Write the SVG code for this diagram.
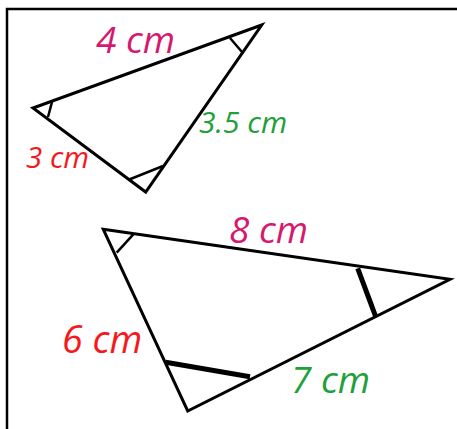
<svg xmlns="http://www.w3.org/2000/svg" width="457" height="429" viewBox="0 0 457 429">
<style>
.tri{fill:none;stroke:#000;stroke-width:3;stroke-linejoin:miter}
.mk{fill:none;stroke:#000;stroke-width:2.5}
.mkb{fill:none;stroke:#000;stroke-width:5}
.lbl{font-family:"Open Sans","Noto Sans",sans-serif;font-style:italic}
.mag{fill:#d6186e}.red{fill:#f5191e}.grn{fill:#21a03a}
</style>
<rect x="0" y="0" width="457" height="429" fill="#fff"/>
<g id="frame"><path d="M7,429 V9 H457" fill="none" stroke="#000" stroke-width="2.5"/></g>
<g id="small-triangle">
<polygon class="tri" points="261.7,25 33,108 145.7,192"/>
<line class="mk" x1="230" y1="38" x2="242" y2="52"/>
<line class="mk" x1="52" y1="102" x2="48" y2="117"/>
<line class="mk" x1="128" y1="180" x2="163" y2="166"/>
</g>
<g id="large-triangle">
<polygon class="tri" points="103.3,229.3 450,279.3 187.7,411"/>
<line class="mk" x1="133.3" y1="234.3" x2="116.7" y2="252.7"/>
<line class="mkb" x1="357.7" y1="268.3" x2="375.7" y2="316.7"/>
<line class="mkb" x1="165.7" y1="362.3" x2="250" y2="376.7"/>
</g>
<g id="labels">
<text class="lbl mag" x="96" y="53" font-size="37">4 cm</text>
<text class="lbl grn" x="199" y="133" font-size="30">3.5 cm</text>
<text class="lbl red" x="26" y="168" font-size="29.5">3 cm</text>
<text class="lbl mag" x="229" y="243" font-size="37">8 cm</text>
<text class="lbl red" x="62" y="353" font-size="37.5">6 cm</text>
<text class="lbl grn" x="291" y="393" font-size="37">7 cm</text>
</g>
</svg>
